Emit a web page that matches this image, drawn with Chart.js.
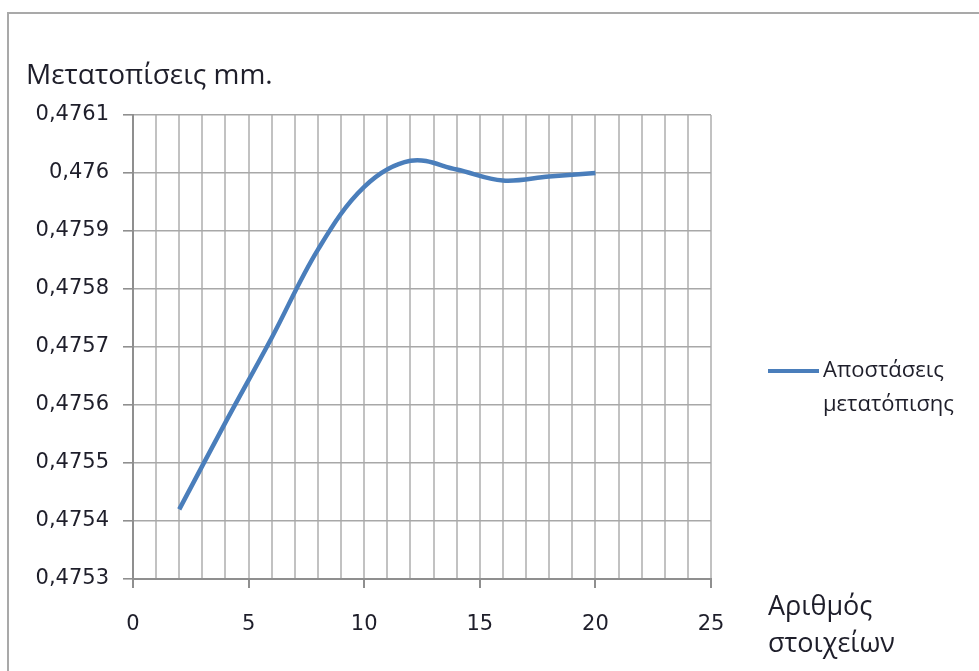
<!DOCTYPE html>
<html>
<head>
<meta charset="utf-8">
<script src="https://cdn.jsdelivr.net/npm/chart.js@4.4.1/dist/chart.umd.min.js"></script>
<style>
    html, body { margin: 0; padding: 0; background: #fff; overflow: hidden; }
    #wrap { position: relative; width: 979px; height: 671px; }
</style>
</head>
<body>
<div id="wrap"><canvas id="myChart"></canvas></div>
<script>
// number of elements vs displacement (mm)
const elements = [2, 4, 6, 8, 10, 12, 14, 16, 18, 20];
const displacements = [0.47542, 0.47557, 0.475716, 0.475868, 0.475976, 0.476021, 0.476006, 0.475987, 0.475994, 0.4760];
const seriesName = ['Αποστάσεις', 'μετατόπισης'];

const xTickValues = [0, 1, 2, 3, 4, 5, 6, 7, 8, 9, 10, 11, 12, 13, 14, 15, 16, 17, 18, 19, 20, 21, 22, 23, 24, 25];
const yTickValues = [0.4753, 0.4754, 0.4755, 0.4756, 0.4757, 0.4758, 0.4759, 0.476, 0.4761];

const yTitle = 'Μετατοπίσεις mm.';
const xTitle = ['Αριθμός', 'στοιχείων'];

const textColor = '#1e1e2a';
const lineColor = '#4a7ebb';

// frame, axis titles and the legend are painted by hand
const extras = {
    id: 'extras',
    beforeDraw(chart) {
        const ctx = chart.ctx;
        ctx.save();
        ctx.strokeStyle = '#a9a9a9';
        ctx.lineWidth = 2;
        ctx.beginPath();
        ctx.moveTo(8, 700);
        ctx.lineTo(8, 13);
        ctx.lineTo(1000, 13);
        ctx.stroke();
        ctx.restore();
    },
    afterDraw(chart) {
        const ctx = chart.ctx;
        const area = chart.chartArea;
        ctx.save();
        ctx.fillStyle = textColor;
        ctx.textBaseline = 'alphabetic';
        ctx.textAlign = 'left';

        ctx.font = '28px "Open Sans"';
        ctx.fillText(yTitle, 26, area.top - 31);

        ctx.font = '27px "Open Sans"';
        ctx.fillText(xTitle[0], area.right + 57, area.bottom + 36);
        ctx.fillText(xTitle[1], area.right + 57, area.bottom + 73);

        // legend
        const ds = chart.data.datasets[0];
        const ly = (area.top + area.bottom) / 2 + 24;
        ctx.strokeStyle = ds.borderColor;
        ctx.lineWidth = 4;
        ctx.beginPath();
        ctx.moveTo(area.right + 57, ly);
        ctx.lineTo(area.right + 108, ly);
        ctx.stroke();
        ctx.font = '22px "Open Sans"';
        ctx.textBaseline = 'middle';
        ctx.fillText(ds.label[0], area.right + 112, ly);
        ctx.fillText(ds.label[1], area.right + 112, ly + 34);
        ctx.restore();
    }
};

const data = {
    datasets: [{
        label: seriesName,
        data: elements.map((x, i) => ({ x: x, y: displacements[i] })),
        borderColor: lineColor,
        borderWidth: 4.5,
        pointRadius: 0,
        tension: 0.36,
        fill: false,
    }]
};

const tickFont = { family: '"DejaVu Sans"', size: 21 };

const config = {
    type: 'line',
    data: data,
    options: {
        responsive: true,
        maintainAspectRatio: false,
        animation: false,
        layout: { padding: { top: 115, right: 268, left: 0, bottom: 0 } },
        plugins: {
            legend: { display: false },
            tooltip: { enabled: false },
        },
        scales: {
            x: {
                type: 'linear',
                min: 0,
                max: 25,
                afterBuildTicks: (axis) => { axis.ticks = xTickValues.map(v => ({ value: v })); },
                afterFit: (scale) => { scale.height = 92; },
                ticks: {
                    autoSkip: false,
                    maxRotation: 0,
                    padding: 24,
                    color: textColor,
                    font: tickFont,
                    callback: (v) => (v % 5 === 0 ? String(v) : ''),
                },
                grid: {
                    color: '#c2c2c2',
                    lineWidth: 2,
                    tickLength: 9,
                    tickColor: (c) => (c.tick && c.tick.value % 5 === 0 ? '#8f8f8f' : 'rgba(0,0,0,0)'),
                },
                border: { color: '#8f8f8f', width: 2 },
            },
            y: {
                min: 0.4753,
                max: 0.4761,
                afterBuildTicks: (axis) => { axis.ticks = yTickValues.map(v => ({ value: v })); },
                afterFit: (scale) => { scale.width = 133; },
                ticks: {
                    padding: 14,
                    color: textColor,
                    font: tickFont,
                    callback: (v) => String(parseFloat(v.toFixed(4))).replace('.', ','),
                },
                grid: {
                    color: '#a8a8a8',
                    lineWidth: 1.6,
                    tickLength: 10,
                    tickColor: '#8f8f8f',
                },
                border: { color: '#8f8f8f', width: 2 },
            }
        }
    },
    plugins: [extras]
};

const myChart = new Chart(document.getElementById('myChart'), config);
</script>
</body>
</html>
